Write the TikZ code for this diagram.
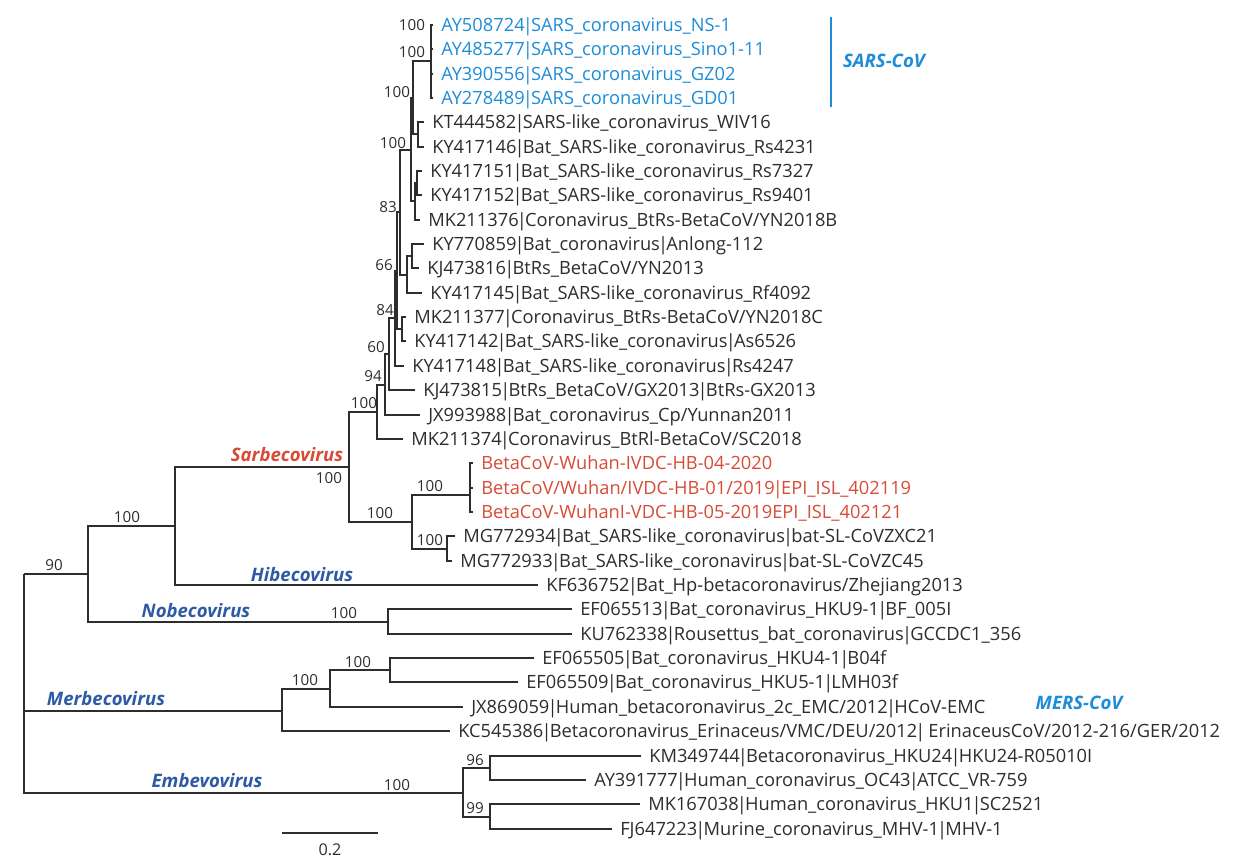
\documentclass[tikz,border=0pt]{standalone}
\usepackage{fontspec}
\setmainfont{Open Sans}
\usetikzlibrary{calc}

\definecolor{sarsblue}{RGB}{30,140,215}
\definecolor{wuhanred}{RGB}{215,75,55}
\definecolor{cladeblue}{RGB}{45,90,165}
\definecolor{treegray}{RGB}{45,45,45}
\newcommand{\idbar}{\kern-0.1em|\kern-0.1em}

\begin{document}
\begin{tikzpicture}[x=0.25mm, y=-0.25mm,
  leaf/.style={anchor=west, inner xsep=2mm, inner ysep=0pt, text height=9.3pt, text depth=0pt,
    font=\fontsize{13}{15}\selectfont, text=treegray},
  boot/.style={inner sep=0pt, font=\fontsize{10.8}{12}\selectfont, text=treegray},
  clade/.style={inner sep=0pt, font=\fontsize{13.2}{15}\selectfont\bfseries\itshape, text=cladeblue},
  br/.style={line width=0.9pt, draw=treegray}]
\useasboundingbox (0,0) rectangle (1244,862);

% leaves
\node[leaf, text=sarsblue] (l1) at (433,25) {AY508724\idbar SARS\_coronavirus\_NS-1};
\node[leaf, text=sarsblue] (l2) at (433,49) {AY485277\idbar SARS\_coronavirus\_Sino1-11};
\node[leaf, text=sarsblue] (l3) at (433,74) {AY390556\idbar SARS\_coronavirus\_GZ02};
\node[leaf, text=sarsblue] (l4) at (433,98) {AY278489\idbar SARS\_coronavirus\_GD01};
\node[leaf] (l5) at (424,122) {KT444582\idbar SARS-like\_coronavirus\_WIV16};
\node[leaf] (l6) at (424,147) {KY417146\idbar Bat\_SARS-like\_coronavirus\_Rs4231};
\node[leaf] (l7) at (422,171) {KY417151\idbar Bat\_SARS-like\_coronavirus\_Rs7327};
\node[leaf] (l8) at (422,195) {KY417152\idbar Bat\_SARS-like\_coronavirus\_Rs9401};
\node[leaf] (l9) at (420,220) {MK211376\idbar Coronavirus\_BtRs-BetaCoV/YN2018B};
\node[leaf] (l10) at (424,244) {KY770859\idbar Bat\_coronavirus\idbar Anlong-112};
\node[leaf] (l11) at (419,268) {KJ473816\idbar BtRs\_BetaCoV/YN2013};
\node[leaf] (l12) at (422,293) {KY417145\idbar Bat\_SARS-like\_coronavirus\_Rf4092};
\node[leaf] (l13) at (406,317) {MK211377\idbar Coronavirus\_BtRs-BetaCoV/YN2018C};
\node[leaf] (l14) at (406,341) {KY417142\idbar Bat\_SARS-like\_coronavirus\idbar As6526};
\node[leaf] (l15) at (404,366) {KY417148\idbar Bat\_SARS-like\_coronavirus\idbar Rs4247};
\node[leaf] (l16) at (415,390) {KJ473815\idbar BtRs\_BetaCoV/GX2013\idbar BtRs-GX2013};
\node[leaf] (l17) at (420,415) {JX993988\idbar Bat\_coronavirus\_Cp/Yunnan2011};
\node[leaf] (l18) at (403,439) {MK211374\idbar Coronavirus\_BtRl-BetaCoV/SC2018};
\node[leaf, text=wuhanred] (l19) at (473,463) {BetaCoV-Wuhan-IVDC-HB-04-2020};
\node[leaf, text=wuhanred] (l20) at (473,488) {BetaCoV/Wuhan/IVDC-HB-01/2019\idbar EPI\_ISL\_402119};
\node[leaf, text=wuhanred] (l21) at (473,512) {BetaCoV-WuhanI-VDC-HB-05-2019EPI\_ISL\_402121};
\node[leaf] (l22) at (455,536) {MG772934\idbar Bat\_SARS-like\_coronavirus\idbar bat-SL-CoVZXC21};
\node[leaf] (l23) at (452,561) {MG772933\idbar Bat\_SARS-like\_coronavirus\idbar bat-SL-CoVZC45};
\node[leaf] (l24) at (538,585) {KF636752\idbar Bat\_Hp-betacoronavirus/Zhejiang2013};
\node[leaf] (l25) at (572,609) {EF065513\idbar Bat\_coronavirus\_HKU9-1\idbar BF\_005I};
\node[leaf] (l26) at (572,634) {KU762338\idbar Rousettus\_bat\_coronavirus\idbar GCCDC1\_356};
\node[leaf] (l27) at (534,658) {EF065505\idbar Bat\_coronavirus\_HKU4-1\idbar B04f};
\node[leaf] (l28) at (518,682) {EF065509\idbar Bat\_coronavirus\_HKU5-1\idbar LMH03f};
\node[leaf] (l29) at (463,707) {JX869059\idbar Human\_betacoronavirus\_2c\_EMC/2012\idbar HCoV-EMC};
\node[leaf] (l30) at (450,731) {KC545386\idbar Betacoronavirus\_Erinaceus/VMC/DEU/2012\idbar\ ErinaceusCoV/2012-216/GER/2012};
\node[leaf] (l31) at (641,756) {KM349744\idbar Betacoronavirus\_HKU24\idbar HKU24-R05010I};
\node[leaf] (l32) at (586,780) {AY391777\idbar Human\_coronavirus\_OC43\idbar ATCC\_VR-759};
\node[leaf] (l33) at (640,804) {MK167038\idbar Human\_coronavirus\_HKU1\idbar SC2521};
\node[leaf] (l34) at (612,829) {FJ647223\idbar Murine\_coronavirus\_MHV-1\idbar MHV-1};

% inner nodes
\coordinate (sars) at (431,61);
\coordinate (wiv) at (418,134);
\coordinate (nJ) at (413,98);
\coordinate (rs) at (417,183);
\coordinate (nL) at (415,201);
\coordinate (nK) at (411,150);
\coordinate (anl) at (412,256);
\coordinate (nG) at (407,275);
\coordinate (nH) at (400,212);
\coordinate (nE) at (402,329);
\coordinate (nQ) at (397,271);
\coordinate (nX) at (395,318);
\coordinate (nC) at (389,354);
\coordinate (nB) at (385,385);
\coordinate (nA) at (377,412);
\coordinate (wuhan) at (470,495);
\coordinate (zc) at (447,549);
\coordinate (nN) at (412,522);
\coordinate (sarbe) at (349,467);
\coordinate (hibe) at (175,526);
\coordinate (nobe) at (388,622);
\coordinate (n90) at (88,574);
\coordinate (hku) at (390,670);
\coordinate (emc) at (330,689);
\coordinate (merbe) at (282,711);
\coordinate (oc) at (490,768);
\coordinate (mhv) at (490,817);
\coordinate (embe) at (463,793);
\coordinate (root) at (24,574);

% branches
\draw[br] (sars) |- (l1.west) (sars) |- (l2.west) (sars) |- (l3.west) (sars) |- (l4.west);
\draw[br] (wiv) |- (l5.west) (wiv) |- (l6.west);
\draw[br] (nJ) |- (sars) (nJ) |- (wiv);
\draw[br] (rs) |- (l7.west) (rs) |- (l8.west);
\draw[br] (nL) |- (rs) (nL) |- (l9.west);
\draw[br] (nK) |- (nJ) (nK) |- (nL);
\draw[br] (anl) |- (l10.west) (anl) |- (l11.west);
\draw[br] (nG) |- (anl) (nG) |- (l12.west);
\draw[br] (nH) |- (nK) (nH) |- (nG);
\draw[br] (nE) |- (l13.west) (nE) |- (l14.west);
\draw[br] (nQ) |- (nH) (nQ) |- (nE);
\draw[br] (nX) |- (nQ) (nX) |- (l15.west);
\draw[br] (nC) |- (nX) (nC) |- (l16.west);
\draw[br] (nB) |- (nC) (nB) |- (l17.west);
\draw[br] (nA) |- (nB) (nA) |- (l18.west);
\draw[br] (wuhan) |- (l19.west) (wuhan) |- (l20.west) (wuhan) |- (l21.west);
\draw[br] (zc) |- (l22.west) (zc) |- (l23.west);
\draw[br] (nN) |- (wuhan) (nN) |- (zc);
\draw[br] (sarbe) |- (nA) (sarbe) |- (nN);
\draw[br] (hibe) |- (sarbe) (hibe) |- (l24.west);
\draw[br] (nobe) |- (l25.west) (nobe) |- (l26.west);
\draw[br] (n90) |- (hibe) (n90) |- (nobe);
\draw[br] (hku) |- (l27.west) (hku) |- (l28.west);
\draw[br] (emc) |- (hku) (emc) |- (l29.west);
\draw[br] (merbe) |- (emc) (merbe) |- (l30.west);
\draw[br] (oc) |- (l31.west) (oc) |- (l32.west);
\draw[br] (mhv) |- (l33.west) (mhv) |- (l34.west);
\draw[br] (embe) |- (oc) (embe) |- (mhv);
\draw[br] (root) |- (n90) (root) |- (merbe) (root) |- (embe);

% bootstrap values
\node[boot] (b1) at (412,25) {100};
\node[boot] (b2) at (412,52) {100};
\node[boot] (b3) at (397,92) {100};
\node[boot] (b4) at (393,143) {100};
\node[boot] (b5) at (388,207) {83};
\node[boot] (b6) at (384,265) {66};
\node[boot] (b7) at (385,310) {84};
\node[boot] (b8) at (376,347) {60};
\node[boot] (b9) at (373,376) {94};
\node[boot] (b10) at (364,403) {100};
\node[boot] (b11) at (329,478) {100};
\node[boot] (b12) at (380,513) {100};
\node[boot] (b13) at (430,486) {100};
\node[boot] (b14) at (430,540) {100};
\node[boot] (b15) at (127,517) {100};
\node[boot] (b16) at (54,565) {90};
\node[boot] (b17) at (344,613) {100};
\node[boot] (b18) at (358,662) {100};
\node[boot] (b19) at (305,680) {100};
\node[boot] (b20) at (397,785) {100};
\node[boot] (b21) at (475,760) {96};
\node[boot] (b22) at (475,808) {99};

% clades
\node[clade, text=wuhanred] (sarbelab) at (287,455) {Sarbecovirus};
\node[clade] (hibelab) at (302,575) {Hibecovirus};
\node[clade] (nobelab) at (196,611) {Nobecovirus};
\node[clade] (merbelab) at (106,699) {Merbecovirus};
\node[clade] (embelab) at (207,781) {Embevovirus};
\coordinate (bar1) at (831,17);
\coordinate (bar2) at (831,107);
\draw[sarsblue, line width=1.1pt] (bar1) -- (bar2);
\node[clade, text=sarsblue] (sarslab) at (884,61) {SARS-CoV};
\node[clade, text=sarsblue] (merslab) at (1079,703) {MERS-CoV};

% scale bar
\coordinate (sb1) at (282,833);
\coordinate (sb2) at (378,833);
\draw[br] (sb1) -- (sb2);
\node[boot, font=\fontsize{11.5}{13}\selectfont] (sblab) at (330,850) {0.2};
\end{tikzpicture}
\end{document}
